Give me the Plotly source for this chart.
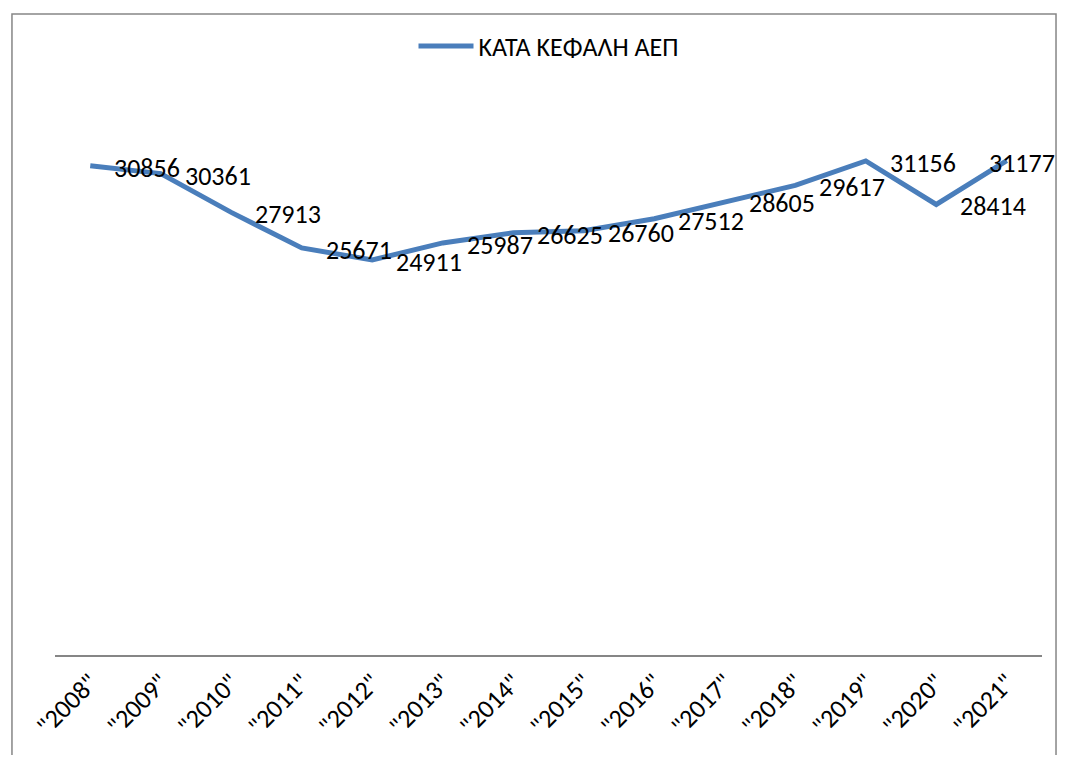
import plotly.graph_objects as go

years = ["2008", "2009", "2010", "2011", "2012", "2013", "2014",
         "2015", "2016", "2017", "2018", "2019", "2020", "2021"]
tick_labels = ['"%s"' % y for y in years]
gdp_per_capita = [30856, 30361, 27913, 25671, 24911, 25987, 26625,
                  26760, 27512, 28605, 29617, 31156, 28414, 31177]
series_name = "\u039a\u0391\u03a4\u0386 \u039a\u0395\u03a6\u0391\u039b\u0397 \u0391\u0395\u03a0"

FONT = "Carlito, Calibri, Liberation Sans, Arial, sans-serif"
LINE_COLOR = "#4A7EBB"

fig = go.Figure()
fig.add_trace(go.Scatter(
    x=tick_labels, y=gdp_per_capita, mode="lines", name=series_name,
    line=dict(color=LINE_COLOR, width=5),
))

n = len(tick_labels)
for i, (xl, v) in enumerate(zip(tick_labels, gdp_per_capita)):
    last = (i == n - 1)
    fig.add_annotation(x=xl, y=v, text=str(v), showarrow=False,
                       xanchor="left", yanchor="middle",
                       xshift=-20 if last else 22, yshift=-2,
                       font=dict(family=FONT, size=26, color="#000000"))

fig.add_shape(type="rect", xref="paper", yref="paper",
              x0=-0.0436, x1=1.0142, y0=-0.25, y1=1.155,
              line=dict(color="#868686", width=1.5), fillcolor="rgba(0,0,0,0)",
              layer="below")

fig.update_layout(
    width=1050, height=747,
    margin=dict(l=47, r=16, t=92, b=100),
    paper_bgcolor="white", plot_bgcolor="white",
    font=dict(family=FONT, color="#000000"),
    showlegend=True,
    legend=dict(orientation="h", x=0.5, xanchor="center", y=1.097, yanchor="middle",
                font=dict(family=FONT, size=26), itemwidth=55),
    xaxis=dict(type="category", showgrid=False, zeroline=False,
               showline=True, linecolor="#868686", linewidth=2,
               tickangle=-45, tickfont=dict(family=FONT, size=26),
               ticks="", range=[-0.5, 13.5]),
    yaxis=dict(range=[0, 35000], showgrid=False, zeroline=False,
               showline=False, showticklabels=False, ticks=""),
)

fig.write_html("out.html")
